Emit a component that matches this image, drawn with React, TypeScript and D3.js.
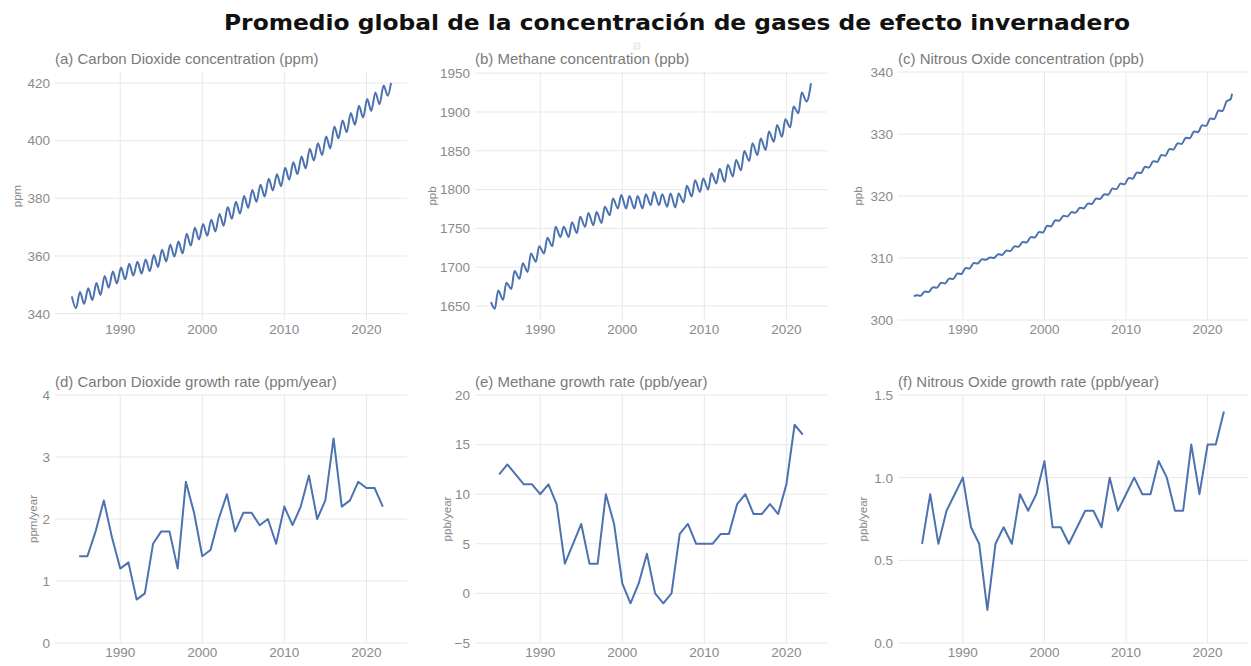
import React from 'react';
import * as d3 from 'd3';

// ---------------- DATA ----------------
const concYears = d3.range(1984, 2023); // 1984..2022
const growthYears = d3.range(1985, 2023); // 1985..2022
const xTicks = [1990, 2000, 2010, 2020];

// CO2 (ppm): seasonal maxima (early year) and minima (late summer)
const co2Peaks = [346.0, 347.5, 348.8, 350.6, 353.1, 354.6, 356.0, 357.3, 358.0, 358.8, 360.3, 362.2, 363.9, 365.0, 367.7, 369.8, 371.1, 372.6, 374.6, 377.0, 378.8, 380.8, 382.9, 384.7, 386.8, 388.3, 390.6, 392.5, 394.5, 397.2, 399.1, 401.4, 404.9, 407.0, 409.6, 412.1, 414.4, 416.7, 419.1];
const co2Troughs = [341.9, 343.4, 344.7, 346.5, 349.0, 350.5, 351.9, 353.2, 353.9, 354.7, 356.2, 358.1, 359.8, 360.9, 363.6, 365.7, 367.0, 368.5, 370.5, 372.9, 374.7, 376.7, 378.8, 380.6, 382.7, 384.2, 386.5, 388.4, 390.4, 393.1, 395.0, 397.3, 400.8, 402.9, 405.5, 408.0, 410.3, 412.6, 415.6];
const co2End = 420.0;

// CH4 (ppb)
const ch4Start = 1655;
const ch4Troughs = [1646.5, 1658, 1672, 1685, 1694, 1707, 1717.6, 1727, 1739, 1739, 1744, 1752, 1754, 1757, 1767, 1775.7, 1775.7, 1775.7, 1775.7, 1780, 1780, 1778, 1777, 1783.5, 1791, 1797, 1800, 1808, 1810, 1817, 1825, 1836.8, 1844.6, 1851, 1861.8, 1868, 1880.3, 1898.4, 1913.5];
const ch4Peaks = [1670, 1680, 1695, 1705, 1717.6, 1727, 1738, 1752, 1752, 1758, 1765, 1770, 1771, 1778, 1788.6, 1793, 1791.6, 1791.6, 1794, 1797, 1794, 1795, 1795, 1805, 1812, 1814.4, 1821, 1827, 1832, 1838, 1849.7, 1859.6, 1865.7, 1874.7, 1883.3, 1890.6, 1907, 1925];
const ch4End = 1937;

// N2O (ppb)
const n2oStart = 303.8;
const n2oHigh = [304.0, 304.6, 305.3, 306.0, 306.7, 307.5, 308.4, 309.2, 309.8, 310.1, 310.6, 311.2, 311.9, 312.6, 313.4, 314.2, 315.2, 316.1, 316.8, 317.4, 318.1, 318.8, 319.6, 320.3, 321.2, 322.0, 322.9, 323.8, 324.7, 325.6, 326.6, 327.6, 328.5, 329.4, 330.4, 331.4, 332.5, 333.8, 335.3];
const n2oLow = [303.9, 304.5, 305.2, 305.9, 306.6, 307.4, 308.3, 309.1, 309.7, 310.0, 310.5, 311.1, 311.8, 312.5, 313.3, 314.1, 315.1, 316.0, 316.7, 317.3, 318.0, 318.7, 319.5, 320.2, 321.1, 321.9, 322.8, 323.7, 324.6, 325.5, 326.5, 327.5, 328.4, 329.3, 330.3, 331.3, 332.4, 333.7, 335.6];
const n2oEnd = 336.5;

// Growth rates 1985..2022
const co2Growth = [1.4, 1.4, 1.8, 2.3, 1.7, 1.2, 1.3, 0.7, 0.8, 1.6, 1.8, 1.8, 1.2, 2.6, 2.1, 1.4, 1.5, 2.0, 2.4, 1.8, 2.1, 2.1, 1.9, 2.0, 1.6, 2.2, 1.9, 2.2, 2.7, 2.0, 2.3, 3.3, 2.2, 2.3, 2.6, 2.5, 2.5, 2.2];
const ch4Growth = [12, 13, 12, 11, 11, 10, 11, 9, 3, 5, 7, 3, 3, 10, 7, 1, -1, 1, 4, 0, -1, 0, 6, 7, 5, 5, 5, 6, 6, 9, 10, 8, 8, 9, 8, 11, 17, 16];
const n2oGrowth = [0.6, 0.9, 0.6, 0.8, 0.9, 1.0, 0.7, 0.6, 0.2, 0.6, 0.7, 0.6, 0.9, 0.8, 0.9, 1.1, 0.7, 0.7, 0.6, 0.7, 0.8, 0.8, 0.7, 1.0, 0.8, 0.9, 1.0, 0.9, 0.9, 1.1, 1.0, 0.8, 0.8, 1.2, 0.9, 1.2, 1.2, 1.4];

const panelTitles = [
  '(a) Carbon Dioxide concentration (ppm)',
  '(b) Methane concentration (ppb)',
  '(c) Nitrous Oxide concentration (ppb)',
  '(d) Carbon Dioxide growth rate (ppm/year)',
  '(e) Methane growth rate (ppb/year)',
  '(f) Nitrous Oxide growth rate (ppb/year)',
];
const unitLabels = ['ppm', 'ppb', 'ppb', 'ppm/year', 'ppb/year', 'ppb/year'];
const yTicksList = [
  [340, 360, 380, 400, 420],
  [1650, 1700, 1750, 1800, 1850, 1900, 1950],
  [300, 310, 320, 330, 340],
  [0, 1, 2, 3, 4],
  [-5, 0, 5, 10, 15, 20],
  [0, 0.5, 1.0, 1.5],
];
const mainTitle = 'Promedio global de la concentración de gases de efecto invernadero';

// ---------------- LAYOUT ----------------
type Pt = [number, number];
function seasonal(start: Pt | null, years: number[], a: number[], aOff: number, b: number[], bOff: number, end: Pt): Pt[] {
  const pts: Pt[] = [];
  if (start) pts.push(start);
  years.forEach((y, i) => {
    if (a[i] !== undefined) pts.push([y + aOff, a[i]]);
    if (b[i] !== undefined) pts.push([y + bOff, b[i]]);
  });
  pts.push(end);
  return pts.sort((p, q) => p[0] - q[0]);
}

const co2Series = seasonal(null, concYears, co2Peaks, 0.1, co2Troughs, 0.6, [2023.0, co2End]);
const ch4Series = seasonal([1984.0, ch4Start], concYears, ch4Troughs, 0.47, ch4Peaks, 0.87, [2023.0, ch4End]);
const n2oSeries = seasonal([1984.0, n2oStart], concYears, n2oHigh, 0.35, n2oLow, 0.8, [2023.0, n2oEnd]);
const growth = (vals: number[]): Pt[] => growthYears.map((y, i) => [y, vals[i]] as Pt);

const cols = [{ l: 55, r: 407 }, { l: 475, r: 827 }, { l: 898, r: 1248 }];
const rows = [{ t: 72, b: 320 }, { t: 395, b: 643 }];

const panels = [
  { data: co2Series, dom: [337.8, 423.8], curve: true, fmt: (v: number) => String(v), yTitleOff: 38 },
  { data: ch4Series, dom: [1632, 1951.5], curve: true, fmt: (v: number) => String(v), yTitleOff: 43 },
  { data: n2oSeries, dom: [300, 340], curve: true, fmt: (v: number) => String(v), yTitleOff: 40 },
  { data: growth(co2Growth), dom: [0, 4], curve: false, fmt: (v: number) => String(v), yTitleOff: 22 },
  { data: growth(ch4Growth), dom: [-5, 20], curve: false, fmt: (v: number) => (v < 0 ? '\u2212' + Math.abs(v) : String(v)), yTitleOff: 28 },
  { data: growth(n2oGrowth), dom: [0, 1.5], curve: false, fmt: (v: number) => v.toFixed(1), yTitleOff: 35 },
];

const LINE = '#4C72B0';
const GRID = '#e8e8e8';
const TICK = '#8a8a8a';
const FONT = "'Liberation Sans', Arial, sans-serif";

function Panel({ idx }: { idx: number }) {
  const p = panels[idx];
  const c = cols[idx % 3];
  const r = rows[Math.floor(idx / 3)];
  const x = d3.scaleLinear().domain([1982.05, 2024.95]).range([c.l, c.r]);
  const y = d3.scaleLinear().domain(p.dom).range([r.b, r.t]);
  const line = d3.line<Pt>().x(d => x(d[0])).y(d => y(d[1]))
    .curve(p.curve ? d3.curveMonotoneX : d3.curveLinear);
  const mid = (r.t + r.b) / 2;
  return (
    <g>
      {xTicks.map(t => (
        <line key={'vx' + t} x1={x(t)} x2={x(t)} y1={r.t} y2={r.b} stroke={GRID} strokeWidth={1} />
      ))}
      {yTicksList[idx].map(t => (
        <line key={'hy' + t} x1={c.l} x2={c.r} y1={y(t)} y2={y(t)} stroke={GRID} strokeWidth={1} />
      ))}
      {yTicksList[idx].map(t => (
        <text key={'ty' + t} x={c.l - 5} y={y(t)} dy="0.36em" textAnchor="end" fontSize={13.5} fill={TICK} fontFamily={FONT}>{p.fmt(t)}</text>
      ))}
      {xTicks.map(t => (
        <text key={'tx' + t} x={x(t)} y={r.b + 14} textAnchor="middle" fontSize={13.5} fill={TICK} fontFamily={FONT}>{t}</text>
      ))}
      <path d={line(p.data) || ''} fill="none" stroke={LINE} strokeWidth={2} strokeLinejoin="round" />
      <text x={c.l} y={r.t - 8} fontSize={15} fill="#7a7a7a" fontFamily={FONT}>{panelTitles[idx]}</text>
      <text transform={`translate(${c.l - p.yTitleOff},${mid}) rotate(-90)`} textAnchor="middle" dy="0.35em" fontSize={11.5} fill={TICK} fontFamily={FONT}>{unitLabels[idx]}</text>
    </g>
  );
}

export default function App() {
  return (
    <div style={{ position: 'absolute', left: 0, top: 0 }}>
      <svg width={1251} height={666} style={{ display: 'block', background: '#fff' }}>
        <rect x={0} y={0} width={1251} height={666} fill="#fff" />
        <text x={677} y={30} textAnchor="middle" fontSize={21} fontWeight="bold" fill="#111"
          fontFamily="'DejaVu Sans', 'Open Sans', sans-serif" textLength={906} lengthAdjust="spacingAndGlyphs">{mainTitle}</text>
        <rect x={634} y={43} width={6} height={6} fill="#f5f5f5" stroke="#e2e2e2" strokeWidth={0.8} />
        {panels.map((_, i) => <Panel key={i} idx={i} />)}
      </svg>
    </div>
  );
}
